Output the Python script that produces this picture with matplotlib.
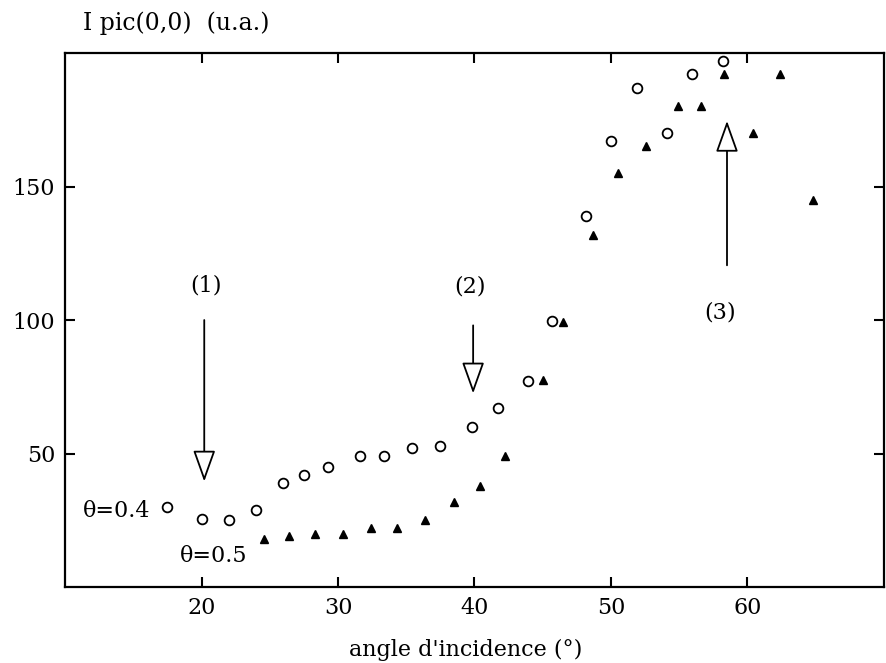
import matplotlib
matplotlib.use("Agg")
import matplotlib.pyplot as plt

# theta = 0.4 (open circles)
ang_04 = [17.5, 20, 22, 24, 26, 27.5, 29.3, 31.6, 33.4, 35.4, 37.5, 39.8,
          41.7, 43.9, 45.7, 48.2, 50, 51.9, 54.1, 55.9, 58.2]
ipic_04 = [30, 25.5, 25, 29, 39, 42, 45, 49, 49, 52, 53, 60,
           67, 77, 99.7, 139, 167, 187, 170, 192, 197]

# theta = 0.5 (filled triangles)
ang_05 = [24.6, 26.4, 28.3, 30.4, 32.4, 34.3, 36.4, 38.5, 40.4, 42.2, 45,
          46.5, 48.7, 50.5, 52.6, 54.9, 56.6, 58.3, 60.4, 62.4, 64.8]
ipic_05 = [18, 19, 20, 20, 22, 22, 25, 32, 38, 49, 77.5,
           99.4, 132, 155, 165, 180, 180, 192, 170, 192, 145]

plt.rcParams['font.family'] = ['DejaVu Serif']

fig = plt.figure(figsize=(8.86, 6.63), dpi=100)
ax = fig.add_axes([0.0734, 0.1146, 0.9243, 0.8054])

ax.plot(ang_04, ipic_04, 'o', mfc='white', mec='black', ms=7, mew=1.3)
ax.plot(ang_05, ipic_05, '^', color='black', ms=5.5)

ax.set_xlim(10, 70)
ax.set_ylim(0, 200)
ax.set_xticks([20, 30, 40, 50, 60])
ax.set_yticks([50, 100, 150])
ax.tick_params(direction='in', length=7, width=1.5, labelsize=16,
               top=True, right=True, pad=7)
for s in ax.spines.values():
    s.set_linewidth(1.6)

# arrows (1), (2), (3)
arrow_kw = dict(arrowstyle='-|>,head_length=1.4,head_width=0.5',
                fc='white', ec='black', lw=1.3, mutation_scale=14,
                shrinkA=0, shrinkB=0)
ax.annotate('', xy=(20.2, 39.5), xytext=(20.2, 100), arrowprops=arrow_kw)
ax.annotate('', xy=(39.9, 72.5), xytext=(39.9, 98), arrowprops=arrow_kw)
ax.annotate('', xy=(58.5, 174.6), xytext=(58.5, 120.5), arrowprops=arrow_kw)

ax.text(20.3, 113, '(1)', fontsize=16, ha='center', va='center')
ax.text(39.7, 112.7, '(2)', fontsize=16, ha='center', va='center')
ax.text(58.0, 102.7, '(3)', fontsize=16, ha='center', va='center')
ax.text(13.8, 28.6, 'θ=0.4', fontsize=16, ha='center', va='center')
ax.text(20.9, 11.6, 'θ=0.5', fontsize=16, ha='center', va='center')

fig.text(466 / 886, 1 - 650 / 663, "angle d'incidence (°)", fontsize=16,
         ha='center', va='center')
fig.text(83 / 886, 1 - 23 / 663, 'I pic(0,0)  (u.a.)', fontsize=17,
         ha='left', va='center')

fig.savefig('out.png', dpi=100)
